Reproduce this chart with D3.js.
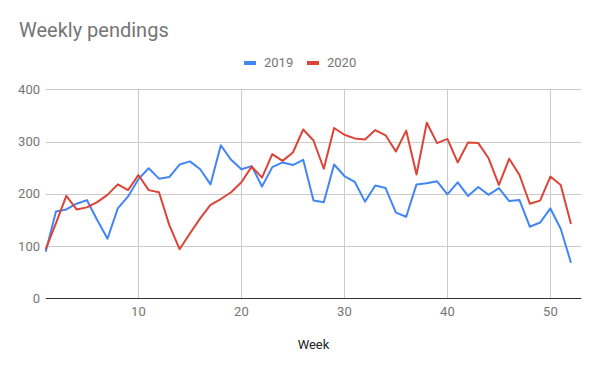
<!DOCTYPE html>
<html>
<head>
<meta charset="utf-8">
<script src="https://cdn.jsdelivr.net/npm/d3@7"></script>
<style>
  body { margin: 0; background: #fff; }
  svg { display: block; font-family: Roboto, Arial, sans-serif; }
</style>
</head>
<body>
<svg id="chart" width="600" height="371"></svg>
<script>
const weeks = d3.range(1, 53);
const seriesNames = ['2019', '2020'];
const values2019 = [89, 166, 170, 181, 188, 150, 114, 172, 195, 228, 249, 229, 232, 256, 262, 247, 218, 293, 265, 247,
  253, 214, 251, 260, 255, 265, 187, 184, 256, 234, 223, 185, 216, 211, 164, 156, 218, 220, 224, 199,
  222, 196, 213, 198, 211, 186, 188, 137, 145, 172, 133, 68];
const values2020 = [94, 144, 196, 170, 174, 184, 198, 218, 207, 236, 207, 203, 140, 94, 124, 153, 179, 190, 203, 222,
  252, 231, 276, 263, 279, 323, 302, 248, 326, 313, 306, 304, 322, 312, 281, 321, 237, 336, 297, 305,
  260, 298, 297, 268, 217, 267, 236, 181, 187, 233, 217, 142];
const xTicks = [10, 20, 30, 40, 50];
const yTicks = [0, 100, 200, 300, 400];
const colors = ['#4285f4', '#db4437'];

const svg = d3.select('#chart');
const x = d3.scaleLinear().domain([1, 53]).range([45.7, 581.3]);
const y = d3.scaleLinear().domain([0, 400]).range([298.3, 89.3]);

svg.append('text')
  .attr('x', 19).attr('y', 37)
  .attr('font-size', 20).attr('fill', '#757575')
  .text('Weekly pendings');

// gridlines
const grid = svg.append('g');
grid.selectAll('line.h')
  .data(yTicks.filter(d => d > 0))
  .join('line')
  .attr('x1', x.range()[0]).attr('x2', x.range()[1])
  .attr('y1', d => Math.round(y(d)) + 0.5).attr('y2', d => Math.round(y(d)) + 0.5)
  .attr('stroke', '#ccc');
grid.selectAll('line.v')
  .data(xTicks)
  .join('line')
  .attr('x1', d => Math.round(x(d)) + 0.5).attr('x2', d => Math.round(x(d)) + 0.5)
  .attr('y1', y(400)).attr('y2', y(0))
  .attr('stroke', '#ccc');

// y labels
svg.append('g').selectAll('text')
  .data(yTicks)
  .join('text')
  .attr('x', 40).attr('y', d => y(d) + 4.5)
  .attr('text-anchor', 'end')
  .attr('font-size', 13).attr('fill', '#757575')
  .text(d => d);

// x labels
svg.append('g').selectAll('text')
  .data(xTicks)
  .join('text')
  .attr('x', d => x(d)).attr('y', 316)
  .attr('text-anchor', 'middle')
  .attr('font-size', 13).attr('fill', '#757575')
  .text(d => d);

svg.append('text')
  .attr('x', (x.range()[0] + x.range()[1]) / 2).attr('y', 349)
  .attr('text-anchor', 'middle')
  .attr('font-size', 13).attr('fill', '#222')
  .text('Week');

// lines
const line = d3.line().x((d, i) => x(weeks[i])).y(d => y(d));
[values2019, values2020].forEach((vals, i) => {
  svg.append('path')
    .datum(vals)
    .attr('d', line)
    .attr('fill', 'none')
    .attr('stroke', colors[i])
    .attr('stroke-width', 2)
    .attr('stroke-linejoin', 'round');
});

// baseline
svg.append('line')
  .attr('x1', x.range()[0]).attr('x2', x.range()[1])
  .attr('y1', Math.round(y(0)) + 0.5).attr('y2', Math.round(y(0)) + 0.5)
  .attr('stroke', '#333');

// legend
const legendX = [244, 307];
const legend = svg.append('g').selectAll('g')
  .data(seriesNames)
  .join('g')
  .attr('transform', (d, i) => `translate(${legendX[i]},0)`);
legend.append('rect')
  .attr('x', 0).attr('y', 61).attr('width', 12).attr('height', 4)
  .attr('fill', (d, i) => colors[i]);
legend.append('text')
  .attr('x', 20).attr('y', 67)
  .attr('font-size', 13).attr('fill', '#757575')
  .text(d => d);
</script>
</body>
</html>
